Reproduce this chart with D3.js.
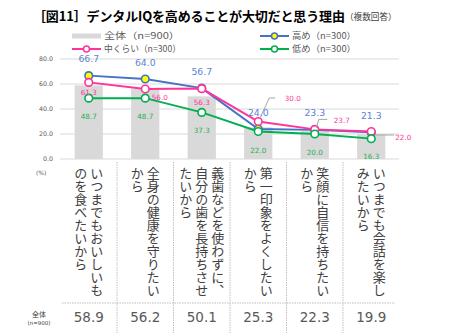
<!DOCTYPE html>
<html><head><meta charset="utf-8">
<script src="https://cdn.jsdelivr.net/npm/d3@7"></script>
<style>
html,body{margin:0;padding:0;background:#fff;}
svg{display:block;}
</style></head>
<body>
<svg id="c" width="450" height="333"></svg>
<script>
const categories = ["いつまでもおいしいものを食べたいから","全身の健康を守りたいから","義歯などを使わずに、自分の歯を長持ちさせたいから","第一印象をよくしたいから","笑顔に自信を持ちたいから","いつまでも会話を楽しみたいから"];
const categoryColumns = [
  ["いつまでもおいしいも","のを食べたいから"],
  ["全身の健康を守りたい","から"],
  ["義歯などを使わずに、","自分の歯を長持ちさせ","たいから"],
  ["第一印象をよくしたい","から"],
  ["笑顔に自信を持ちたい","から"],
  ["いつまでも会話を楽し","みたいから"]
];
const overall = [58.9, 56.2, 50.1, 25.3, 22.3, 19.9];
const high = [66.7, 64.0, 56.7, 24.0, 23.3, 21.3];
const middle = [61.3, 56.0, 56.3, 30.0, 23.7, 22.0];
const low = [48.7, 48.7, 37.3, 22.0, 20.0, 16.3];
const yTicks = [0, 20, 40, 60, 80];
const legendLabels = ["全体（n=900）","高め（n=300）","中くらい（n=300）","低め（n=300）"];
const title = "［図11］デンタルIQを高めることが大切だと思う理由";
const subtitle = "（複数回答）";

const svg = d3.select("#c");
const jp = "'Noto Sans CJK JP', sans-serif";
const num = "'DejaVu Sans', sans-serif";

const x = d3.scaleBand().domain(categories).range([60.5, 399.5]).padding(0);
const y = d3.scaleLinear().domain([0, 80]).range([159, 59]);
const cx = (i) => x(categories[i]) + x.bandwidth() / 2;

// title
svg.append("text").attr("x", 33).attr("y", 21).attr("font-family", jp).attr("font-weight", 700)
  .attr("font-size", 13).attr("letter-spacing", -0.15).attr("fill", "#000").text(title);
svg.append("text").attr("x", 345).attr("y", 20).attr("font-family", jp).attr("font-size", 8.6)
  .attr("fill", "#404040").text(subtitle);

// gridlines
svg.append("g").selectAll("line").data(yTicks).join("line")
  .attr("x1", 60).attr("x2", 399).attr("y1", d => y(d)).attr("y2", d => y(d))
  .attr("stroke", "#D9D9D9").attr("stroke-width", 1.2);

// y tick labels
svg.append("g").selectAll("text").data(yTicks).join("text")
  .attr("x", 53).attr("y", d => y(d) + 2.3).attr("text-anchor", "end")
  .attr("font-family", num).attr("font-size", 6.3).attr("fill", "#595959")
  .text(d => d3.format(".1f")(d));
svg.append("text").attr("x", 36).attr("y", 175).attr("font-family", num).attr("font-size", 6)
  .attr("fill", "#595959").text("(%)");

// bars
const bw = x.bandwidth() * 0.5;
svg.append("g").selectAll("rect").data(overall).join("rect")
  .attr("x", (d, i) => cx(i) - bw / 2).attr("width", bw)
  .attr("y", d => y(d)).attr("height", d => y(0) - y(d))
  .attr("fill", "#D9D9D9");

// separators
const sep = svg.append("g").attr("stroke", "#BFBFBF").attr("stroke-width", 1).attr("stroke-dasharray", "1.5,1");
categories.slice(1).forEach(c => {
  sep.append("line").attr("x1", x(c)).attr("x2", x(c)).attr("y1", 162).attr("y2", 333);
});
sep.append("line").attr("x1", 62).attr("x2", 395).attr("y1", 303).attr("y2", 303);

// category vertical labels
const catG = svg.append("g");
categoryColumns.forEach((cols, i) => {
  const k = cols.length;
  cols.forEach((s, j) => {
    catG.append("text")
      .attr("x", cx(i) + (k - 1) * 8 - j * 16)
      .attr("y", 167)
      .style("writing-mode", "vertical-rl")
      .attr("font-family", jp).attr("font-size", 13).attr("fill", "#404040")
      .text(s);
  });
});

// bottom overall row
svg.append("text").attr("x", 39).attr("y", 317).attr("text-anchor", "middle").attr("font-family", jp)
  .attr("font-size", 7).attr("fill", "#404040").text("全体");
svg.append("text").attr("x", 39).attr("y", 325).attr("text-anchor", "middle").attr("font-family", num)
  .attr("font-size", 5.5).attr("fill", "#404040").text("(n=900)");
svg.append("g").selectAll("text").data(overall).join("text")
  .attr("x", (d, i) => cx(i)).attr("y", 322).attr("text-anchor", "middle")
  .attr("font-family", num).attr("font-size", 13.5).attr("fill", "#595959")
  .text(d => d3.format(".1f")(d));

// series
const series = [
  {vals: high, color: "#4472C4", fill: "#FFFF00", labelColor: "#5B84D6", size: 9.3,
   off: [[0,-13.5],[0,-13.5],[0,-13.5],[0,-13.5],[0,-13.5],[0,-13.5]]},
  {vals: middle, color: "#FF3399", fill: "#FFFFFF", labelColor: "#FF3399", size: 7.2,
   off: [[0,13],[14.5,11],[0,16],[34.5,-20.5],[27,-6.5],[32,8]]},
  {vals: low, color: "#00B050", fill: "#FFFFFF", labelColor: "#1FAF55", size: 7.2,
   off: [[0,20.5],[0,20.5],[0,20.5],[0,21],[0,20.5],[0,20]]}
];
const line = d3.line().x((d, i) => cx(i)).y(d => y(d));
series.forEach(s => {
  const g = svg.append("g");
  g.append("path").attr("d", line(s.vals)).attr("fill", "none").attr("stroke", s.color).attr("stroke-width", 2);
  g.selectAll("circle").data(s.vals).join("circle")
    .attr("cx", (d, i) => cx(i)).attr("cy", d => y(d)).attr("r", 3.8)
    .attr("fill", s.fill).attr("stroke", s.color).attr("stroke-width", 1.6);
});

// leader lines for middle series labels
const lead = svg.append("g").attr("stroke", "#A6A6A6").attr("fill", "none").attr("stroke-width", 1);
lead.append("path").attr("d", `M${cx(3)+2},${y(middle[3])-4} L${cx(3)+11},${y(middle[3])-23.5} L${cx(3)+17},${y(middle[3])-23.5}`);
lead.append("path").attr("d", `M${cx(4)+1.5},${y(middle[4])-1.5} L${cx(4)+4},${y(middle[4])-10} L${cx(4)+12.5},${y(middle[4])-10}`);
lead.append("path").attr("d", `M${cx(5)+4},${y(middle[5])+3.5} L${cx(5)+23},${y(middle[5])+3.5}`);

series.forEach(s => {
  svg.append("g").selectAll("text").data(s.vals).join("text")
    .attr("x", (d, i) => cx(i) + s.off[i][0]).attr("y", (d, i) => y(d) + s.off[i][1])
    .attr("text-anchor", "middle").attr("font-family", num).attr("font-size", s.size)
    .attr("fill", s.labelColor).text(d => d3.format(".1f")(d));
});

// legend
const lg = svg.append("g");
const rows = [36, 49];
const lx = [72, 260];
lg.append("rect").attr("x", lx[0]).attr("y", rows[0] - 2.5).attr("width", 29).attr("height", 5).attr("fill", "#D9D9D9");
lg.append("text").attr("x", lx[0] + 32).attr("y", rows[0] + 3.3).attr("font-family", jp).attr("font-size", 9)
  .attr("fill", "#595959").attr("textLength", 76).attr("lengthAdjust", "spacingAndGlyphs").text(legendLabels[0]);
const legItems = [
  {s: series[0], lx: lx[1], ly: rows[0], label: legendLabels[1], w: 64},
  {s: series[1], lx: lx[0], ly: rows[1], label: legendLabels[2], w: 77},
  {s: series[2], lx: lx[1], ly: rows[1], label: legendLabels[3], w: 64}
];
legItems.forEach(it => {
  lg.append("line").attr("x1", it.lx).attr("x2", it.lx + 29).attr("y1", it.ly).attr("y2", it.ly)
    .attr("stroke", it.s.color).attr("stroke-width", 2);
  lg.append("circle").attr("cx", it.lx + 14.5).attr("cy", it.ly).attr("r", 3)
    .attr("fill", it.s.fill).attr("stroke", it.s.color).attr("stroke-width", 1.5);
  lg.append("text").attr("x", it.lx + 32).attr("y", it.ly + 3.3).attr("font-family", jp).attr("font-size", 9)
    .attr("fill", "#595959").attr("textLength", it.w).attr("lengthAdjust", "spacingAndGlyphs").text(it.label);
});
</script>
</body></html>
